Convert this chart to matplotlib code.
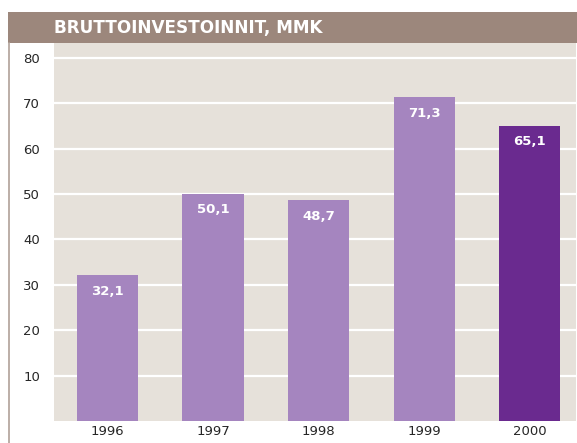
import matplotlib.pyplot as plt
from matplotlib.patches import Rectangle
from matplotlib.lines import Line2D

years = ["1996", "1997", "1998", "1999", "2000"]
values = [32.1, 50.1, 48.7, 71.3, 65.1]
labels = ["32,1", "50,1", "48,7", "71,3", "65,1"]
colors = ["#a585bf", "#a585bf", "#a585bf", "#a585bf", "#6a2a8f"]
yticks = [10, 20, 30, 40, 50, 60, 70, 80]
title = "BRUTTOINVESTOINNIT, MMK"

W, H = 577, 443
fig = plt.figure(figsize=(W / 100, H / 100), dpi=100)

# axes box in pixels: left 54, right 576, top 43, bottom 421
ax = fig.add_axes([54 / W, (H - 421) / H, (576 - 54) / W, (421 - 43) / H])
ax.set_facecolor("#e6e1da")

x = range(len(years))
ax.bar(x, values, width=0.58, color=colors, zorder=3)

for i, (v, lab) in enumerate(zip(values, labels)):
    ax.annotate(lab, (i, v), xytext=(0, -7), textcoords="offset points",
                ha="center", va="top", color="white", fontsize=9.5,
                fontweight="bold", zorder=4)

ax.set_ylim(0, 83.3)
ax.set_xlim(-0.507, 4.437)
ax.set_yticks(yticks)
ax.set_xticks(list(x))
ax.set_xticklabels(years)
ax.yaxis.grid(True, color="white", linewidth=1.6, zorder=1)
ax.tick_params(axis="both", length=0, labelsize=9.5, colors="#262626")
ax.tick_params(axis="y", pad=10)
ax.tick_params(axis="x", pad=3)
for s in ax.spines.values():
    s.set_visible(False)

# title bar and left rule
fig.patches.append(Rectangle((8 / W, (H - 43) / H), (W - 8) / W, 31 / H,
                             transform=fig.transFigure, facecolor="#9c877c",
                             edgecolor="none", zorder=0))
fig.lines.append(Line2D([8.5 / W, 8.5 / W], [0, (H - 43) / H],
                        transform=fig.transFigure, color="#b0a198",
                        linewidth=1.2))
fig.text(54 / W, (H - 28) / H, title, color="white", fontsize=12.2,
         fontweight="bold", va="center", ha="left")

fig.savefig("out.png", dpi=100)
